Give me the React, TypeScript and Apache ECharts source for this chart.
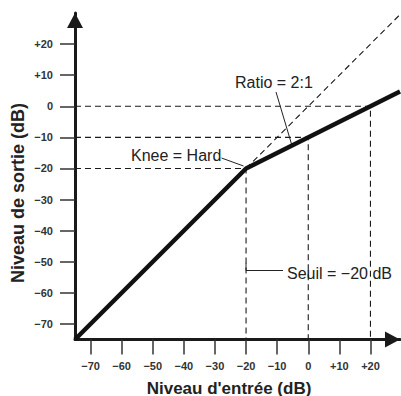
import React, { useEffect, useRef } from "react";
import * as echarts from "echarts";

const X_MIN = -75;
const X_MAX = 29.5;
const Y_MIN = -75;
const Y_MAX = 30;
const xTicks = [-70, -60, -50, -40, -30, -20, -10, 0, 10, 20];
const yTicks = [-70, -60, -50, -40, -30, -20, -10, 0, 10, 20];

// transfer curve (input dB -> output dB)
const curveIn = [-75, -20, 29.5];
const curveOut = [-75, -20, 4.75];
// unity (1:1) reference beyond threshold
const unityIn = [-20, 29.5];
const unityOut = [-20, 29.5];
// guide points (input, output)
const guideIn = [-20, 0, 20];
const guideOut = [-20, -10, 0];

const FONT = '"Liberation Sans", Arial, Helvetica, sans-serif';

function fmt(v: number): string {
  if (v > 0) return "+" + v;
  if (v < 0) return "\u2212" + Math.abs(v);
  return "0";
}

export default function App() {
  const ref = useRef<HTMLDivElement>(null);
  useEffect(() => {
    if (!ref.current) return;
    const chart = echarts.init(ref.current, undefined, { renderer: "svg" });
    const dash = { type: [6, 4] as any, width: 1.1, color: "#1a1a1a" };
    const guideSeries = guideIn.map((gx, i) => ({
      type: "line",
      data: [
        [X_MIN, guideOut[i]],
        [gx, guideOut[i]],
        [gx, Y_MIN],
      ],
      symbol: "none",
      lineStyle: dash,
      z: 1,
      silent: true,
    }));
    const axisCommon = {
      type: "value",
      axisLine: {
        onZero: false,
        lineStyle: { color: "#1a1a1a", width: 3 },
        symbol: ["none", "triangle"],
        symbolSize: [16, 15],
        symbolOffset: [0, -7.5],
      },
      axisTick: {
        length: 15,
        lineStyle: { color: "#333", width: 1.5 },
      },
      axisLabel: {
        formatter: (v: number) => fmt(v),
        color: "#333",
        fontFamily: FONT,
        fontWeight: "bold",
        fontSize: 11,
      },
      splitLine: { show: false },
    };
    chart.setOption({
      animation: false,
      grid: { left: 75, right: 1, top: 13, bottom: 56.5, outerBoundsMode: "none", containLabel: false },
      xAxis: {
        ...axisCommon,
        min: X_MIN,
        max: X_MAX,
        axisTick: { ...axisCommon.axisTick, customValues: xTicks },
        axisLabel: { ...axisCommon.axisLabel, customValues: xTicks, margin: 21 },
      },
      yAxis: {
        ...axisCommon,
        min: Y_MIN,
        max: Y_MAX,
        axisTick: { ...axisCommon.axisTick, customValues: yTicks },
        axisLabel: { ...axisCommon.axisLabel, customValues: yTicks, margin: 22 },
      },
      series: [
        ...guideSeries,
        {
          type: "line",
          data: unityIn.map((x, i) => [x, unityOut[i]]),
          symbol: "none",
          lineStyle: dash,
          z: 2,
        },
        {
          type: "line",
          data: curveIn.map((x, i) => [x, curveOut[i]]),
          symbol: "none",
          lineStyle: { color: "#111", width: 4.5 },
          z: 5,
        },
      ],
      graphic: [
        {
          type: "text",
          x: 229,
          y: 388,
          style: {
            text: "Niveau d'entrée (dB)",
            font: `bold 17px ${FONT}`,
            fill: "#222",
            textAlign: "center",
            textVerticalAlign: "middle",
          },
        },
        {
          type: "text",
          x: 18,
          y: 193,
          rotation: Math.PI / 2,
          style: {
            text: "Niveau de sortie (dB)",
            font: `bold 18px ${FONT}`,
            fill: "#222",
            textAlign: "center",
            textVerticalAlign: "middle",
          },
        },
        {
          type: "text",
          x: 235,
          y: 82,
          style: {
            text: "Ratio = 2:1",
            font: `16px ${FONT}`,
            fill: "#222",
            textAlign: "left",
            textVerticalAlign: "middle",
          },
        },
        {
          type: "line",
          shape: { x1: 276, y1: 92, x2: 291.5, y2: 144 },
          style: { stroke: "#222", lineWidth: 1 },
        },
        {
          type: "text",
          x: 131,
          y: 155,
          style: {
            text: "Knee = Hard",
            font: `16px ${FONT}`,
            fill: "#222",
            textAlign: "left",
            textVerticalAlign: "middle",
          },
        },
        {
          type: "line",
          shape: { x1: 221.5, y1: 158, x2: 243.5, y2: 166 },
          style: { stroke: "#222", lineWidth: 1 },
        },
        {
          type: "polyline",
          shape: { points: [[246, 263], [246, 270.5], [283, 270.5]] },
          style: { stroke: "#222", lineWidth: 1, fill: "none" },
        },
        {
          type: "text",
          x: 287,
          y: 273,
          style: {
            text: "Seuil = \u221220 dB",
            font: `16px ${FONT}`,
            fill: "#222",
            textAlign: "left",
            textVerticalAlign: "middle",
          },
        },
      ],
    });
    return () => chart.dispose();
  }, []);
  return <div ref={ref} style={{ width: 401, height: 396, position: "absolute", left: 0, top: 0 }} />;
}
